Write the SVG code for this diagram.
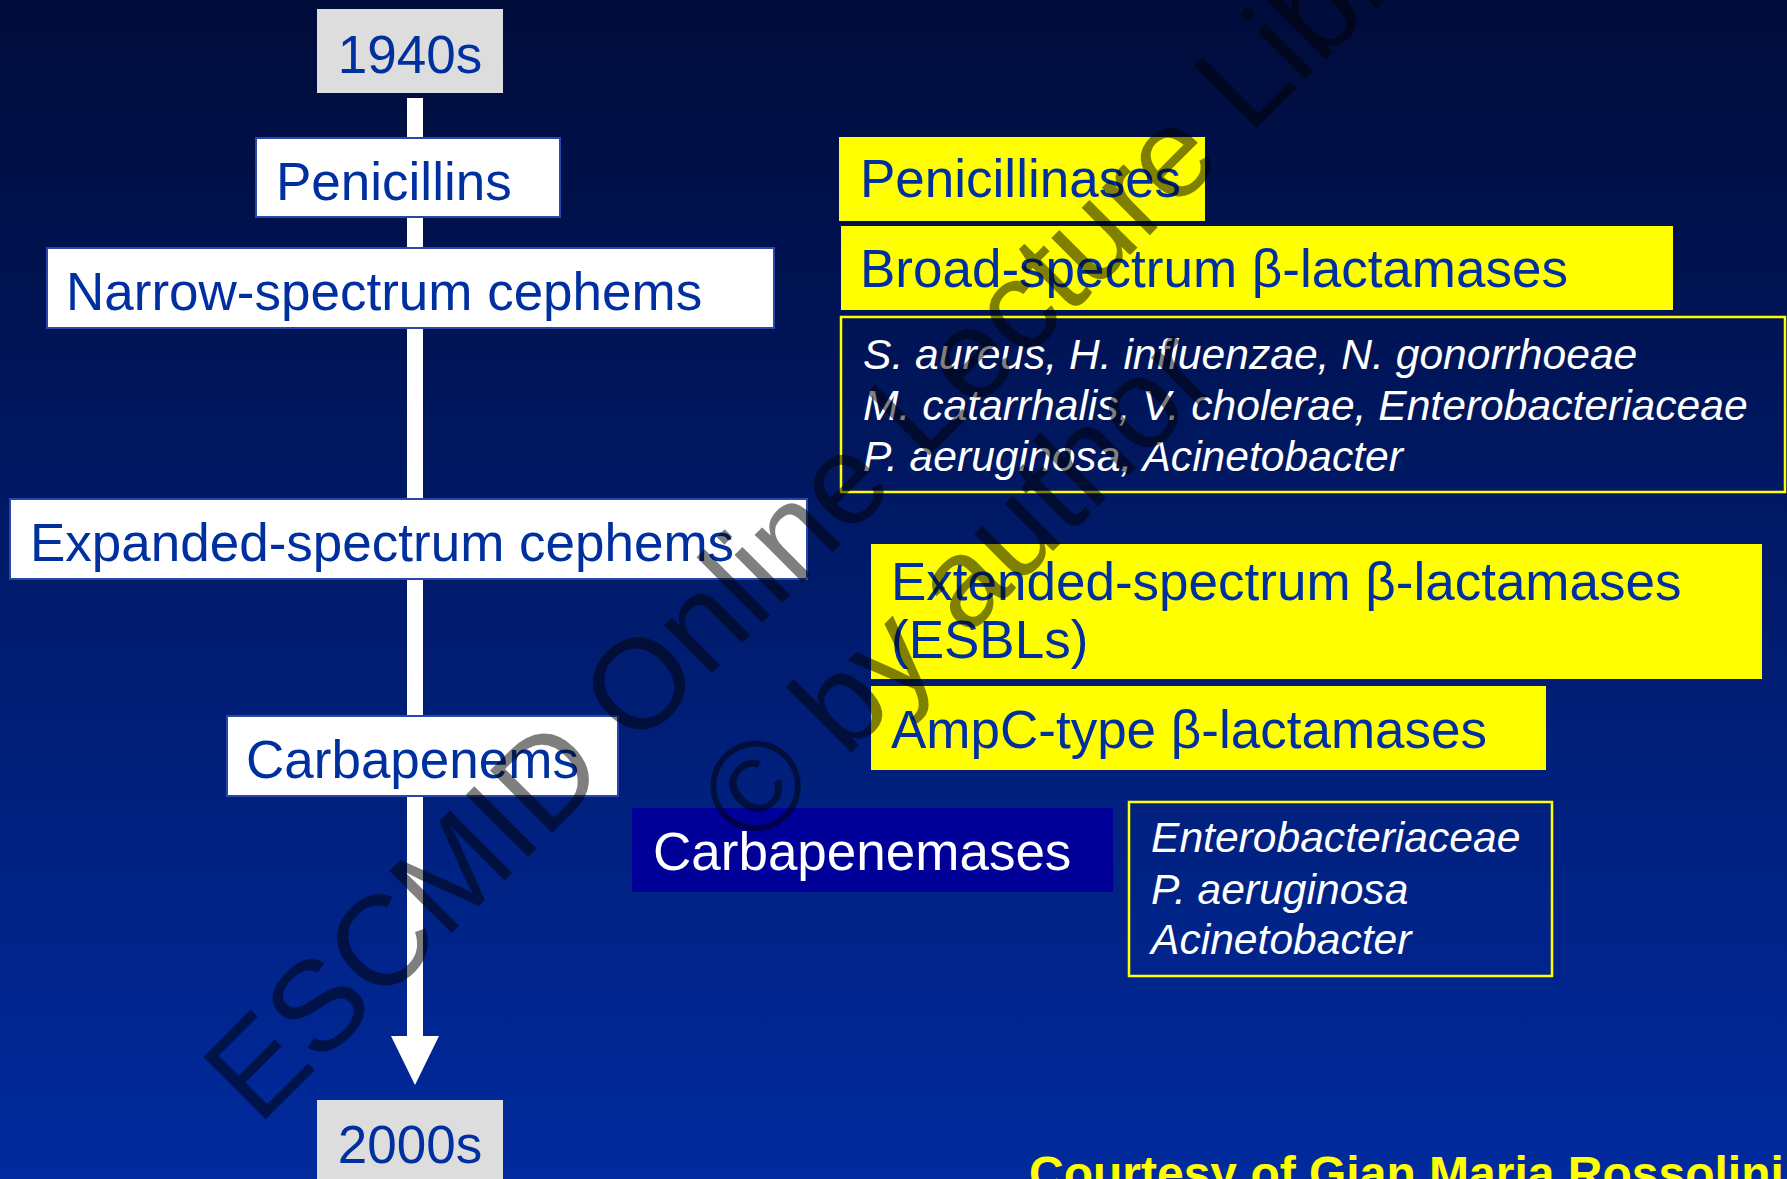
<svg xmlns="http://www.w3.org/2000/svg" width="1787" height="1179" viewBox="0 0 1787 1179">
<defs>
<linearGradient id="bg" x1="0" y1="0" x2="0" y2="1">
<stop offset="0" stop-color="#000c3a"/>
<stop offset="1" stop-color="#002a9e"/>
</linearGradient>
</defs>
<style>
.lbl{font-family:"Liberation Sans",Arial,sans-serif;font-size:53px;fill:#0030a0}
.it{font-family:"Liberation Sans",Arial,sans-serif;font-size:42.6px;font-style:italic;fill:#ffffff}
.wbox{fill:#ffffff;stroke:#2a46a8;stroke-width:2}
.gbox{fill:#dddddd}
.ybox{fill:#ffff00}
.obox{fill:none;stroke:#ffff00;stroke-width:2.5}
.wm{font-family:"Liberation Sans",Arial,sans-serif;font-size:128px;fill:#000000;fill-opacity:0.5}
</style>
<rect x="0" y="0" width="1787" height="1179" fill="url(#bg)"/>
<g id="connectors">
<rect x="407" y="98" width="16" height="940" fill="#ffffff"/>
<polygon points="391,1036 439,1036 415,1085" fill="#ffffff"/>
</g>
<g id="n1940s"><rect class="gbox" x="317" y="9" width="186" height="84"/><text class="lbl" x="410" y="73" text-anchor="middle">1940s</text></g>
<g id="penicillins"><rect class="wbox" x="256" y="138" width="304" height="79"/><text class="lbl" x="276" y="200">Penicillins</text></g>
<g id="narrow"><rect class="wbox" x="47" y="248" width="727" height="80"/><text class="lbl" x="66" y="310">Narrow-spectrum cephems</text></g>
<g id="expanded"><rect class="wbox" x="10" y="499" width="797" height="80"/><text class="lbl" x="30" y="561">Expanded-spectrum cephems</text></g>
<g id="carbapenems"><rect class="wbox" x="227" y="716" width="391" height="80"/><text class="lbl" x="246" y="778">Carbapenems</text></g>
<g id="n2000s"><rect class="gbox" x="317" y="1100" width="186" height="90"/><text class="lbl" x="410" y="1163" text-anchor="middle">2000s</text></g>
<g id="penicillinases"><rect class="ybox" x="839" y="137" width="366" height="84"/><text class="lbl" x="860" y="197">Penicillinases</text></g>
<g id="broad"><rect class="ybox" x="841" y="226" width="832" height="84"/><text class="lbl" x="860" y="287">Broad-spectrum β-lactamases</text></g>
<g id="broadOrgs"><rect class="obox" x="841" y="317" width="944" height="175"/>
<text class="it" x="863" y="369">S. aureus, H. influenzae, N. gonorrhoeae</text>
<text class="it" x="863" y="420">M. catarrhalis, V. cholerae, Enterobacteriaceae</text>
<text class="it" x="863" y="471">P. aeruginosa, Acinetobacter</text></g>
<g id="esbl"><rect class="ybox" x="871" y="544" width="891" height="135"/><text class="lbl" x="891" y="600">Extended-spectrum β-lactamases</text><text class="lbl" x="891" y="658">(ESBLs)</text></g>
<g id="ampc"><rect class="ybox" x="871" y="686" width="675" height="84"/><text class="lbl" x="891" y="748">AmpC-type β-lactamases</text></g>
<g id="carbapenemases"><rect x="632" y="808" width="481" height="84" fill="#000099"/><text class="lbl" x="653" y="870" style="fill:#ffffff">Carbapenemases</text></g>
<g id="carbaOrgs"><rect class="obox" x="1129" y="802" width="423" height="174"/>
<text class="it" x="1151" y="852">Enterobacteriaceae</text>
<text class="it" x="1151" y="904">P. aeruginosa</text>
<text class="it" x="1151" y="954">Acinetobacter</text></g>
<text x="1029" y="1190" font-family="Liberation Sans, Arial, sans-serif" font-size="48" font-weight="bold" fill="#ffff00">Courtesy of Gian Maria Rossolini</text>
<g id="watermark">
<text class="wm" text-anchor="middle" transform="translate(892,493) rotate(-45)">ESCMID Online Lecture Library</text>
<text class="wm" text-anchor="middle" transform="translate(988,616) rotate(-45)">© by author</text>
</g>
</svg>
